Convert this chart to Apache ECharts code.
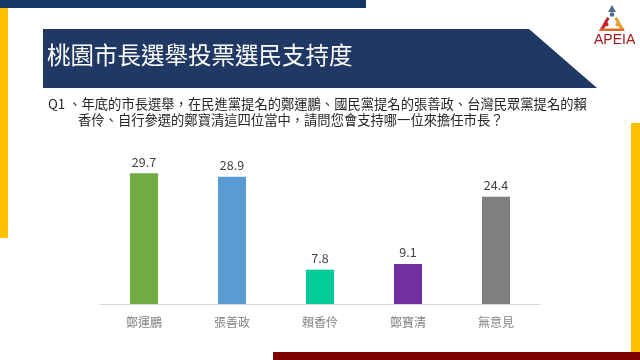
<!DOCTYPE html>
<html><head><meta charset="utf-8">
<script src="https://cdn.jsdelivr.net/npm/echarts@6/dist/echarts.min.js"></script>
<style>html,body{margin:0;padding:0;background:#fff}#c{width:640px;height:360px}</style>
</head><body><div id="c"></div>
<script>
const categories = ['鄭運鵬', '張善政', '賴香伶', '鄭寶清', '無意見'];
const values = [29.7, 28.9, 7.8, 9.1, 24.4];
const barColors = ['#70ad47', '#5b9bd5', '#00cc99', '#7030a0', '#7f7f7f'];
const titleText = '桃園市長選舉投票選民支持度';
const questionLine1 = 'Q1 、年底的市長選舉，在民進黨提名的鄭運鵬、國民黨提名的張善政、台灣民眾黨提名的賴';
const questionLine2 = '香伶、自行參選的鄭寶清這四位當中，請問您會支持哪一位來擔任市長？';

const FONT = '"Noto Sans CJK TC", "Noto Sans", sans-serif';
const chart = echarts.init(document.getElementById('c'), null, {renderer: 'canvas'});
chart.setOption({
  backgroundColor: '#ffffff',
  animation: false,
  grid: {left: 100, right: 100, top: 172, bottom: 56},
  xAxis: {
    type: 'category', data: categories,
    axisLine: {lineStyle: {color: '#d9d9d9', width: 1}},
    axisTick: {show: false},
    axisLabel: {color: '#858585', fontSize: 12, margin: 12, fontFamily: FONT}
  },
  yAxis: {type: 'value', min: 0, max: 30, show: false, splitLine: {show: false}},
  series: [{
    type: 'bar', barWidth: 28,
    data: values.map((v, i) => ({value: v, itemStyle: {color: barColors[i]}})),
    label: {show: true, position: 'top', distance: 5, color: '#404040', fontSize: 12.5, fontFamily: FONT}
  }],
  graphic: [
    {type: 'rect', shape: {x: 0, y: 0, width: 366, height: 8}, style: {fill: '#163766'}},
    {type: 'rect', shape: {x: 0, y: 8, width: 8, height: 230}, style: {fill: '#ffc000'}},
    {type: 'rect', shape: {x: 631, y: 123, width: 9, height: 229}, style: {fill: '#ffc000'}},
    {type: 'rect', shape: {x: 273, y: 352, width: 367, height: 8}, style: {fill: '#7f0000'}},
    {type: 'polygon', shape: {points: [[43, 29], [529, 29], [597, 88], [43, 88]]}, style: {fill: '#203864'}},
    {type: 'text', left: 47, top: 43, style: {text: titleText, fill: '#ffffff', fontSize: 23.5, fontWeight: 'normal', fontFamily: FONT}},
    {type: 'text', left: 48, top: 97, style: {text: questionLine1, fill: '#262626', fontSize: 13.3, fontFamily: FONT}},
    {type: 'text', left: 78, top: 113, style: {text: questionLine2, fill: '#262626', fontSize: 13.3, fontFamily: FONT}},
    // logo
    {type: 'polygon', shape: {points: [[612, 5], [616, 12], [608, 12]]}, style: {fill: '#4f6b86'}},
    {type: 'circle', shape: {cx: 612, cy: 14.5, r: 2.3}, style: {fill: '#4f6b86'}},
    {type: 'polygon', shape: {points: [[607, 17], [609.5, 18.5], [603, 31], [599, 31]]}, style: {fill: '#c0282d'}},
    {type: 'polygon', shape: {points: [[617, 17], [614.5, 18.5], [621, 31], [625, 31]]}, style: {fill: '#e8a030'}},
    {type: 'rect', shape: {x: 600, y: 28.5, width: 24, height: 2.5}, style: {fill: '#d86a2a'}},
    {type: 'circle', shape: {cx: 606.5, cy: 24.5, r: 2}, style: {fill: '#c0282d'}},
    {type: 'circle', shape: {cx: 617.5, cy: 24.5, r: 2}, style: {fill: '#e8a030'}},
    {type: 'text', left: 594, top: 33, style: {text: 'APEIA', fill: '#a3161a', fontSize: 14, fontFamily: '"Liberation Sans Narrow", "Liberation Sans", sans-serif'}}
  ]
});
</script></body></html>
